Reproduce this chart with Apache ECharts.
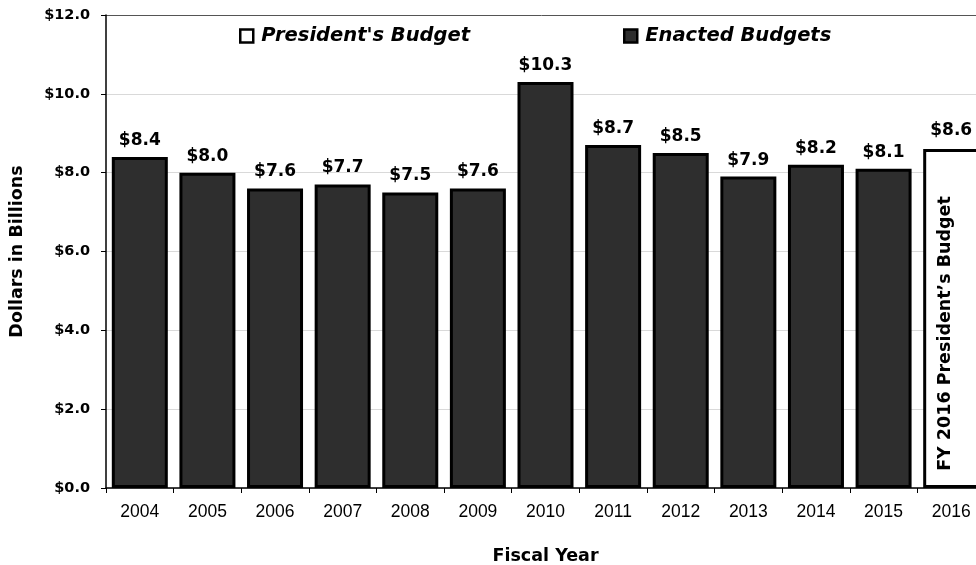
<!DOCTYPE html>
<html>
<head>
<meta charset="utf-8">
<script src="https://cdn.jsdelivr.net/npm/echarts@6/dist/echarts.min.js"></script>
<style>
  html, body { margin: 0; padding: 0; background: #fff; }
  #chart { width: 976px; height: 565px; }
</style>
</head>
<body>
<div id="chart"></div>
<script>
// Fiscal years on the category axis
const years = ['2004', '2005', '2006', '2007', '2008', '2009', '2010',
               '2011', '2012', '2013', '2014', '2015', '2016'];
// Enacted budgets, $ billions (no enacted figure yet for 2016)
const enacted = [8.4, 8.0, 7.6, 7.7, 7.5, 7.6, 10.3, 8.7, 8.5, 7.9, 8.2, 8.1, null];
// President's budget request, $ billions (2016 only)
const presidents = [null, null, null, null, null, null, null, null, null, null, null, null, 8.6];
// Text written inside the request bar
const requestNote = 'FY 2016 President\u2019s Budget';
// Value axis ticks
const yTicks = [0, 2, 4, 6, 8, 10, 12];

const BOLD = '"DejaVu Sans", "Liberation Sans", Arial, sans-serif';
const PLAIN = '"Liberation Sans", Arial, Helvetica, sans-serif';
const money = v => '$' + Number(v).toFixed(1);
const asData = arr => arr.map(v => (v == null ? '-' : v));

const chart = echarts.init(document.getElementById('chart'), null, { renderer: 'canvas' });

const barBase = {
  type: 'bar',
  barGap: '-100%',
  barWidth: 56,
  animation: false
};

const legendBase = {
  top: 26,
  padding: 0,
  itemWidth: 13, itemHeight: 13,
  icon: 'rect',
  itemStyle: { borderColor: '#000', borderWidth: 2.5 },
  textStyle: { fontFamily: BOLD, fontSize: 19.5, fontWeight: 'bold', fontStyle: 'italic', color: '#000', padding: [0, 0, 0, 3] },
  selectedMode: false
};

chart.setOption({
  backgroundColor: '#ffffff',
  grid: {
    left: 106, top: 15, width: 879, height: 473,
    containLabel: false,
    outerBoundsMode: 'none'
  },
  legend: [
    Object.assign({}, legendBase, { data: ["President's Budget"], left: 239 }),
    Object.assign({}, legendBase, { data: ['Enacted Budgets'], left: 623 })
  ],
  xAxis: {
    type: 'category',
    data: years,
    name: 'Fiscal Year',
    nameLocation: 'middle',
    nameGap: 59,
    nameTextStyle: { fontFamily: BOLD, fontSize: 17.5, fontWeight: 'bold', color: '#000' },
    axisLine: { lineStyle: { color: '#000', width: 1.5 } },
    axisTick: { show: true, length: 5, lineStyle: { color: '#000', width: 1 } },
    axisLabel: { fontFamily: PLAIN, fontSize: 17.5, color: '#000', margin: 15 },
    splitLine: { show: false }
  },
  yAxis: {
    type: 'value',
    min: yTicks[0],
    max: yTicks[yTicks.length - 1],
    interval: 2,
    name: 'Dollars in Billions',
    nameLocation: 'middle',
    nameGap: 80,
    nameTextStyle: { fontFamily: BOLD, fontSize: 17.5, fontWeight: 'bold', color: '#000' },
    axisLine: { show: true, lineStyle: { color: '#000', width: 1.5 } },
    axisTick: { show: true, length: 5, lineStyle: { color: '#000', width: 1 } },
    axisLabel: {
      fontFamily: BOLD, fontSize: 14.5, fontWeight: 'bold', color: '#000', margin: 16,
      formatter: v => money(v)
    },
    splitLine: {
      show: true,
      lineStyle: { color: ['#d9d9d9', '#d9d9d9', '#d9d9d9', '#d9d9d9', '#d9d9d9', '#d9d9d9', '#555555'], width: 1 }
    }
  },
  series: [
    Object.assign({}, barBase, {
      name: "President's Budget",
      data: asData(presidents),
      itemStyle: { color: '#ffffff', borderColor: '#000', borderWidth: 3 },
      label: {
        show: true, position: 'top', distance: 10,
        fontFamily: BOLD, fontSize: 17, fontWeight: 'bold', color: '#000',
        formatter: p => money(p.value)
      },
      z: 2
    }),
    Object.assign({}, barBase, {
      name: 'Enacted Budgets',
      data: asData(enacted),
      itemStyle: { color: '#2e2e2e', borderColor: '#000', borderWidth: 3 },
      label: {
        show: true, position: 'top', distance: 8,
        fontFamily: BOLD, fontSize: 17, fontWeight: 'bold', color: '#000',
        formatter: p => money(p.value)
      },
      z: 2
    }),
    Object.assign({}, barBase, {
      name: 'request-note',
      data: asData(presidents),
      itemStyle: { color: 'rgba(0,0,0,0)', borderWidth: 0 },
      label: {
        show: true, position: 'inside', rotate: 90, offset: [-15, -6],
        fontFamily: BOLD, fontSize: 17.5, fontWeight: 'bold', color: '#000',
        formatter: () => requestNote
      },
      emphasis: { disabled: true },
      z: 3
    })
  ]
});
</script>
</body>
</html>
